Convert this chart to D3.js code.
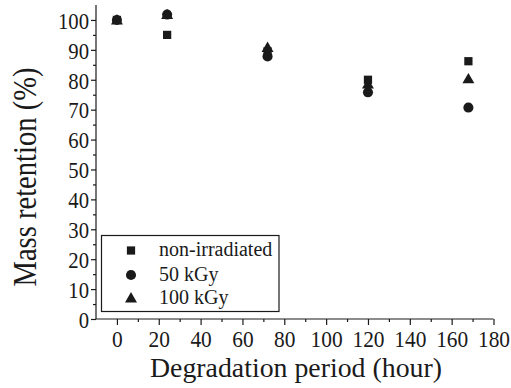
<!DOCTYPE html>
<html><head><meta charset="utf-8">
<script src="https://cdn.jsdelivr.net/npm/d3@7"></script>
</head><body style="margin:0;background:#fff">
<svg id="c" width="511" height="388" font-family="Liberation Serif"></svg>
<script>
const hours = [0, 24, 72, 120, 168];
const nonIrradiated = [100, 95, 89.5, 80, 86.2];
const kGy50 = [100, 101.8, 87.8, 75.8, 70.7];
const kGy100 = [100, 101.8, 90.8, 78.6, 80.3];
const seriesNames = ["non-irradiated", "50 kGy", "100 kGy"];
const xTicks = [0, 20, 40, 60, 80, 100, 120, 140, 160, 180];
const yTicks = [0, 10, 20, 30, 40, 50, 60, 70, 80, 90, 100];

const svg = d3.select("#c");
const ink = "#1a1a1a";
const fontName = "Liberation Serif";
const x = d3.scaleLinear().domain([-10, 180]).range([96, 493.5]);
const y = d3.scaleLinear().domain([0, 105]).range([319, 5]);

const gx = svg.append("g").attr("transform", "translate(0,319)");
gx.call(d3.axisBottom(x).tickValues(d3.range(10, 180, 20)).tickSize(3).tickFormat(""));
const gxM = svg.append("g").attr("transform", "translate(0,319)")
  .call(d3.axisBottom(x).tickValues(xTicks).tickSize(6).tickPadding(6).tickSizeOuter(0));
const gy = svg.append("g").attr("transform", "translate(96,0)");
gy.call(d3.axisLeft(y).tickValues(d3.range(5, 105, 10)).tickSize(3).tickFormat(""));
const gyM = svg.append("g").attr("transform", "translate(96,0)")
  .call(d3.axisLeft(y).tickValues(yTicks).tickSize(5).tickPadding(2).tickSizeOuter(0));
[gx, gxM, gy, gyM].forEach(g => g.attr("font-family", fontName).attr("font-size", 23));

svg.selectAll(".domain").attr("stroke", ink).attr("stroke-width", 1.2);
svg.selectAll(".tick line").attr("stroke", ink).attr("stroke-width", 1.2);
svg.selectAll(".tick text").attr("fill", ink);
gxM.selectAll(".tick text").each(function(){
  const l = this.getComputedTextLength();
  d3.select(this).attr("textLength", l*0.93).attr("lengthAdjust", "spacingAndGlyphs");
});
gyM.selectAll(".tick text").attr("dy", "0.36em").each(function(){
  const l = this.getComputedTextLength();
  d3.select(this).attr("textLength", l*0.9).attr("lengthAdjust", "spacingAndGlyphs");
});
gxM.select(".domain").attr("d", `M${x(-10)},0H${x(180)}`);
gyM.select(".domain").attr("d", `M0,${y(0)}V${y(105)}`);
gx.select(".domain").remove(); gy.select(".domain").remove();

svg.append("text").attr("x", 296).attr("y", 377).attr("text-anchor", "middle")
  .attr("fill", ink).attr("font-family", fontName).attr("font-size", 28)
  .attr("textLength", 292).attr("lengthAdjust", "spacingAndGlyphs")
  .text("Degradation period (hour)");
svg.append("text").attr("transform", "translate(36,177) rotate(-90)").attr("text-anchor", "middle")
  .attr("fill", ink).attr("font-family", fontName).attr("font-size", 33)
  .attr("textLength", 219).attr("lengthAdjust", "spacingAndGlyphs")
  .text("Mass retention (%)");

const sq = d3.symbol().type(d3.symbolSquare).size(68);
const ci = d3.symbol().type(d3.symbolCircle).size(80);
const tr = d3.symbol().type(d3.symbolTriangle).size(62);
const series = [
  {vals: nonIrradiated, sym: sq, dy: 0},
  {vals: kGy50, sym: ci, dy: 0},
  {vals: kGy100, sym: tr, dy: 1}
];
series.forEach(s => {
  svg.append("g").selectAll("path").data(hours).join("path")
    .attr("d", s.sym())
    .attr("transform", (h, i) => `translate(${x(h)},${y(s.vals[i]) + s.dy})`)
    .attr("fill", ink);
});

const lg = svg.append("g");
lg.append("rect").attr("x", 101.5).attr("y", 235.5).attr("width", 177.5).attr("height", 76)
  .attr("fill", "#fff").attr("stroke", ink).attr("stroke-width", 1.2);
const rowsY = [250.5, 275, 298];
series.forEach((s, i) => {
  lg.append("path").attr("d", s.sym()).attr("transform", `translate(131,${rowsY[i] + s.dy})`).attr("fill", ink);
  lg.append("text").attr("x", 159).attr("y", rowsY[i] + 5.5).attr("fill", ink)
    .attr("font-family", fontName).attr("font-size", 20).text(seriesNames[i]);
});
</script>
</body></html>
